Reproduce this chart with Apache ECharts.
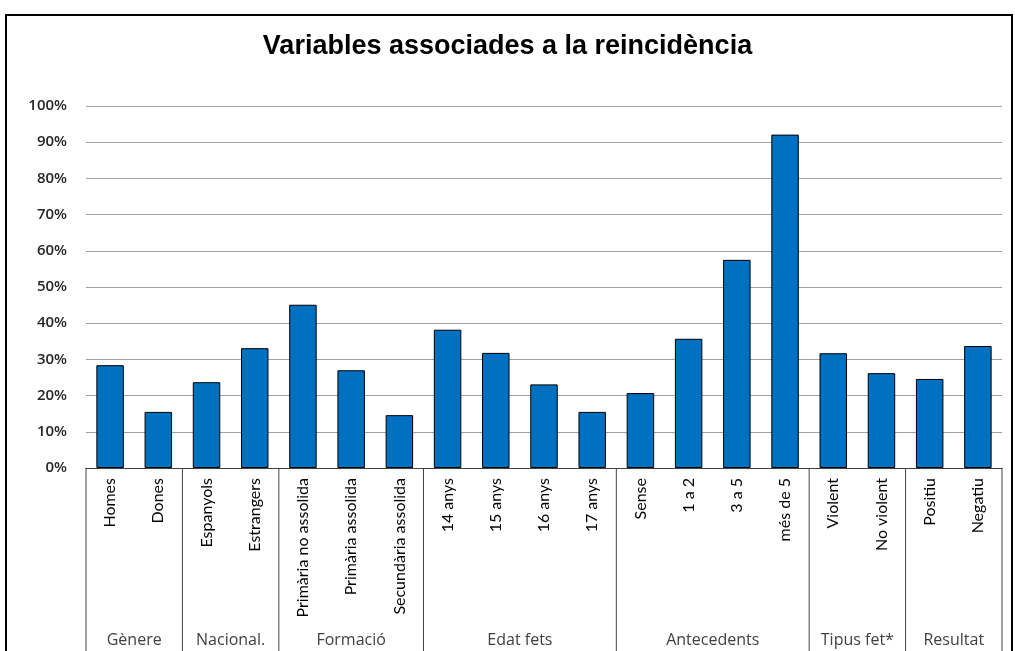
<!DOCTYPE html>
<html>
<head>
<meta charset="utf-8">
<style>
  html, body { margin: 0; padding: 0; background: #fff; }
  #chart { width: 1015px; height: 651px; }
</style>
<script src="https://cdn.jsdelivr.net/npm/echarts@6/dist/echarts.min.js"></script>
</head>
<body>
<div id="chart"></div>
<script>
// categories (bottom row) and their groups
const categories = [
  'Homes', 'Dones',
  'Espanyols', 'Estrangers',
  'Primària no assolida', 'Primària assolida', 'Secundària assolida',
  '14 anys', '15 anys', '16 anys', '17 anys',
  'Sense', '1 a 2', '3 a 5', 'més de 5',
  'Violent', 'No violent',
  'Positiu', 'Negatiu'
]
const groupNames = ['Gènere', 'Nacional.', 'Formació', 'Edat fets', 'Antecedents', 'Tipus fet*', 'Resultat']
const groupSizes = [2, 2, 3, 4, 4, 2, 2]
// reincidència (%)
const values = [
  28.4, 15.5,
  23.7, 33.1,
  45.1, 27.0, 14.6,
  38.2, 31.8, 23.1, 15.5,
  20.7, 35.7, 57.5, 92.1,
  31.7, 26.2,
  24.6, 33.7
]

const gridColor = '#a0a0a0'
const lineColor = '#404040'
const barColor = '#0070C0'

const chart = echarts.init(document.getElementById('chart'))

chart.setOption({
  animation: false,
  title: {
    text: 'Variables associades a la reincidència',
    left: 'center',
    top: 28,
    textStyle: {
      fontFamily: 'Liberation Sans',
      fontWeight: 'bold',
      fontSize: 27,
      color: '#000'
    }
  },
  grid: {
    left: 86,
    right: 13,
    top: 106,
    bottom: 183
  },
  xAxis: {
    type: 'category',
    data: categories,
    axisLine: { lineStyle: { color: lineColor, width: 1 } },
    axisTick: { show: false },
    axisLabel: {
      rotate: 90,
      margin: 10,
      interval: 0,
      fontFamily: 'Lato',
      fontSize: 16,
      color: '#000'
    }
  },
  yAxis: {
    type: 'value',
    min: 0,
    max: 100,
    interval: 10,
    axisLine: { show: false },
    axisTick: { show: false },
    axisLabel: {
      formatter: '{value}%',
      margin: 19,
      fontFamily: 'Open Sans',
      fontSize: 15,
      fontWeight: 600,
      color: '#262626'
    },
    splitLine: { lineStyle: { color: gridColor, width: 1 } }
  },
  series: [{
    type: 'bar',
    data: values,
    barWidth: '57%',
    itemStyle: {
      color: barColor,
      borderColor: '#000',
      borderWidth: 1
    }
  }]
})

// table lines and group names under the axis
const graphics = [{
  type: 'rect',
  shape: { x: 6, y: 15, width: 1006, height: 700 },
  style: { fill: 'none', stroke: '#000', lineWidth: 2 },
  silent: true
}]
const y0 = chart.convertToPixel({ yAxisIndex: 0 }, 0)
const step = chart.convertToPixel({ xAxisIndex: 0 }, 1) - chart.convertToPixel({ xAxisIndex: 0 }, 0)
const edge = (i) => chart.convertToPixel({ xAxisIndex: 0 }, 0) - step / 2 + i * step
let start = 0
graphics.push({
  type: 'line',
  shape: { x1: edge(0), y1: y0, x2: edge(0), y2: 660 },
  style: { stroke: lineColor, lineWidth: 1 }
})
groupSizes.forEach((size, g) => {
  const end = start + size
  graphics.push({
    type: 'line',
    shape: { x1: edge(end), y1: y0, x2: edge(end), y2: 660 },
    style: { stroke: lineColor, lineWidth: 1 }
  })
  graphics.push({
    type: 'text',
    x: (edge(start) + edge(end)) / 2,
    y: 640,
    style: {
      text: groupNames[g],
      align: 'center',
      verticalAlign: 'middle',
      fontFamily: 'Open Sans',
      fontSize: 16,
      fill: '#404040'
    }
  })
  start = end
})
chart.setOption({ graphic: graphics })
</script>
</body>
</html>
